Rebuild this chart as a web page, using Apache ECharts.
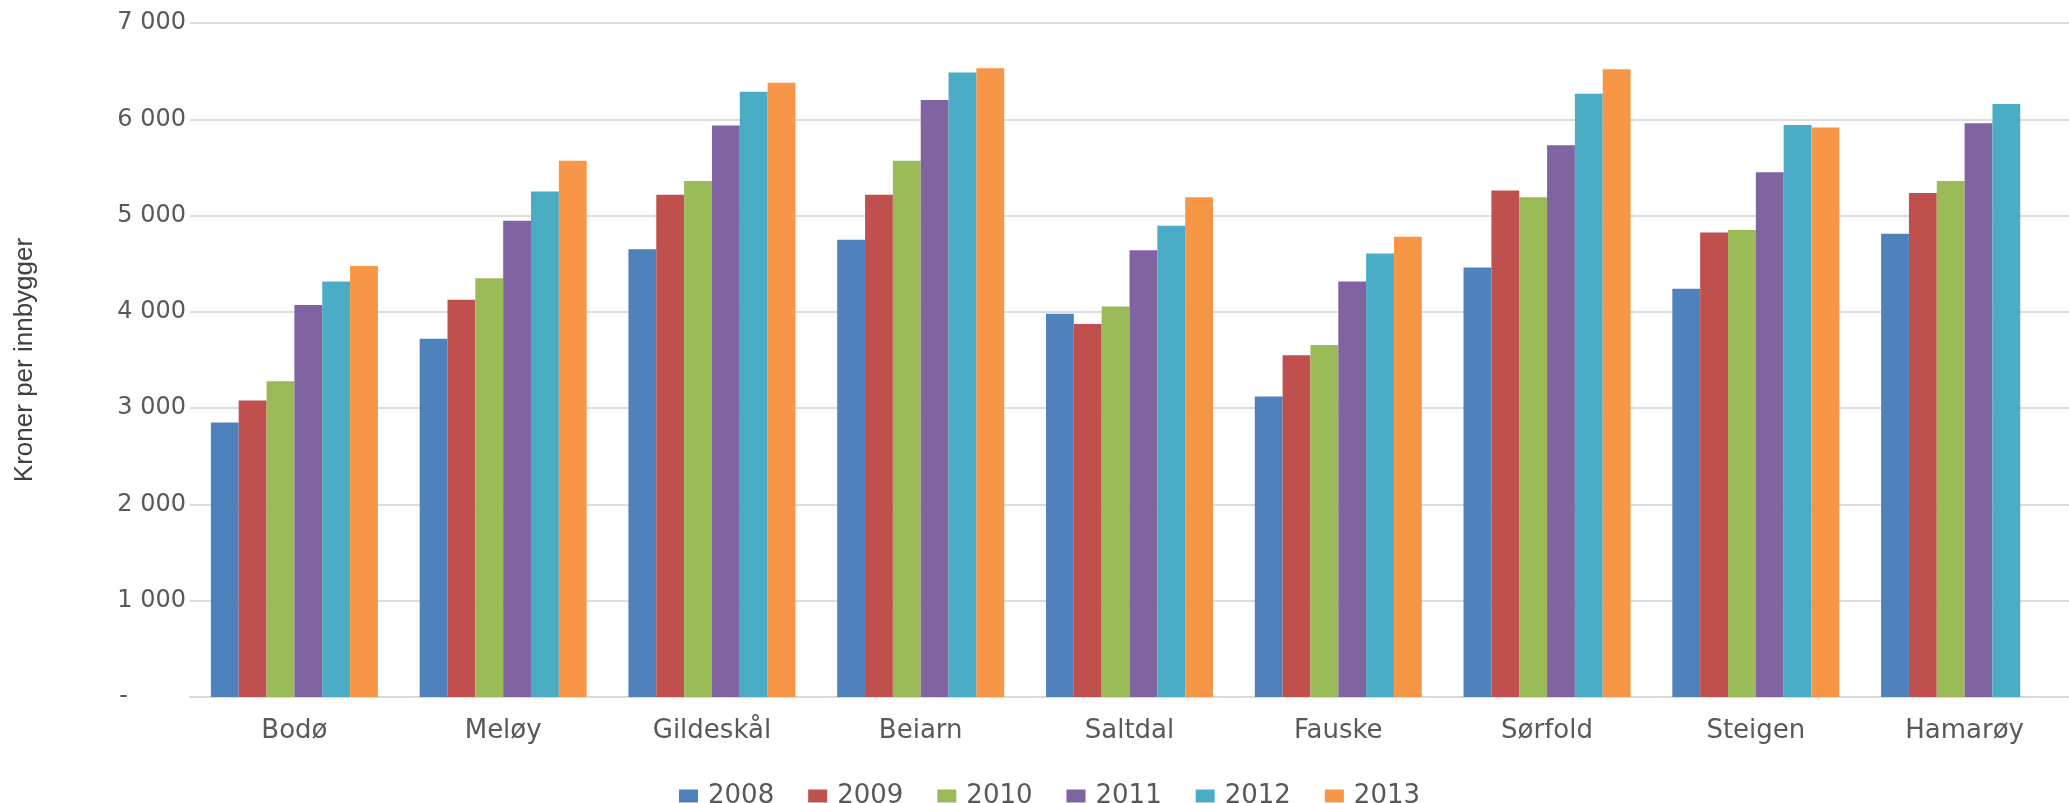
<!DOCTYPE html>
<html>
<head>
<meta charset="utf-8">
<script src="https://cdn.jsdelivr.net/npm/echarts@6/dist/echarts.min.js"></script>
<style>
  html, body { margin: 0; padding: 0; background: #fff; }
  #chart { width: 2069px; height: 803px; }
</style>
</head>
<body>
<div id="chart"></div>
<script>
// kommuner
var categories = ['Bodø', 'Meløy', 'Gildeskål', 'Beiarn', 'Saltdal', 'Fauske', 'Sørfold', 'Steigen', 'Hamarøy'];
var years = ['2008', '2009', '2010', '2011', '2012', '2013'];

// kroner per innbygger
var y2008 = [2850, 3720, 4650, 4750, 3980, 3120, 4460, 4240, 4810];
var y2009 = [3080, 4125, 5215, 5215, 3875, 3550, 5260, 4825, 5235];
var y2010 = [3280, 4350, 5360, 5570, 4055, 3655, 5190, 4850, 5360];
var y2011 = [4070, 4945, 5935, 6200, 4640, 4315, 5730, 5450, 5960];
var y2012 = [4315, 5250, 6285, 6485, 4895, 4605, 6265, 5940, 6160];
var y2013 = [4475, 5570, 6380, 6530, 5190, 4780, 6520, 5915, null];

var yTicks = [0, 1000, 2000, 3000, 4000, 5000, 6000, 7000];

var colors = ['#4F81BD', '#C0504D', '#9BBB59', '#8064A2', '#4BACC6', '#F79646'];
var seriesData = [y2008, y2009, y2010, y2011, y2012, y2013];

var chart = echarts.init(document.getElementById('chart'));

var series = [];
for (var i = 0; i < years.length; i++) {
  series.push({
    name: years[i],
    type: 'bar',
    barGap: 0,
    barCategoryGap: '20%',
    data: seriesData[i],
    itemStyle: { color: colors[i] }
  });
}

chart.setOption({
  animation: false,
  color: colors,
  grid: { left: 190, right: -9, top: 23, bottom: 106 },
  legend: {
    data: years,
    left: 674,
    top: 778,
    itemWidth: 19,
    itemHeight: 13,
    itemGap: 34,
    icon: 'rect',
    textStyle: { fontFamily: 'DejaVu Sans', fontSize: 26, color: '#595959', padding: [0, 0, 0, 5] }
  },
  xAxis: {
    type: 'category',
    data: categories,
    axisLine: { lineStyle: { color: '#D9D9D9', width: 2 } },
    axisTick: { show: false },
    axisLabel: { margin: 21, fontFamily: 'DejaVu Sans', fontSize: 26, color: '#595959' }
  },
  yAxis: {
    type: 'value',
    min: yTicks[0],
    max: yTicks[yTicks.length - 1],
    interval: 1000,
    name: 'Kroner per innbygger',
    nameLocation: 'middle',
    nameGap: 152,
    nameTextStyle: { fontFamily: 'Liberation Sans', fontSize: 26, color: '#404040' },
    axisLine: { show: false },
    axisTick: { show: false },
    splitLine: { lineStyle: { color: '#DDDDDD', width: 2 } },
    axisLabel: {
      margin: 4,
      fontFamily: 'DejaVu Sans',
      fontSize: 24,
      color: '#595959',
      formatter: function (v) {
        if (v === 0) return '{dash|-}';
        return String(v).replace(/\B(?=(\d{3})+(?!\d))/g, ' ');
      },
      rich: {
        dash: { fontFamily: 'DejaVu Sans', fontSize: 24, color: '#595959', padding: [0, 58, 0, 0] }
      }
    }
  },
  series: series
});
</script>
</body>
</html>
